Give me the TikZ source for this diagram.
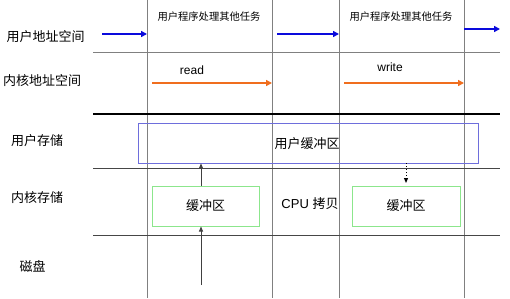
\documentclass[tikz,border=0pt]{standalone}
\usepackage{fontspec}
\setmainfont{Liberation Sans}
\newfontfamily\cjk{Noto Sans CJK SC}
\usetikzlibrary{arrows.meta}
\definecolor{gridgray}{RGB}{128,128,128}
\definecolor{darkline}{RGB}{70,70,70}
\definecolor{ublue}{RGB}{10,10,220}
\definecolor{korange}{RGB}{240,110,30}
\definecolor{boxblue}{RGB}{110,110,220}
\definecolor{boxgreen}{RGB}{140,230,140}
\tikzset{
  lbl/.style={font=\cjk\fontsize{13}{15}\selectfont, inner sep=0pt},
  task/.style={font=\cjk\fontsize{10.3}{12}\selectfont, inner sep=0pt},
  txt/.style={font=\fontsize{12}{14}\selectfont, inner sep=0pt},
  vline/.style={gridgray, line width=1pt},
  hline/.style={darkline, line width=0.8pt},
  uarrow/.style={ublue, line width=2pt, -{Triangle[length=6pt,width=6pt]}},
  karrow/.style={korange, line width=2pt, -{Triangle[length=6pt,width=6pt]}},
  uparrow/.style={black!75, line width=0.8pt, -{Triangle[length=5pt,width=4pt]}},
  dotarrow/.style={black, line width=1pt, dotted, -{Triangle[length=5pt,width=4pt]}},
  ubuf/.style={draw=boxblue, line width=0.8pt, inner sep=0pt},
  kbuf/.style={draw=boxgreen, line width=1pt, inner sep=0pt},
}
\begin{document}
\begin{tikzpicture}[x=1pt, y=-1pt]
\useasboundingbox[fill=white] (0,0) rectangle (510,298);
% grid
\foreach \x in {147,272,339,464} \draw[vline] (\x,0) -- (\x,298);
\draw[gridgray, line width=1pt] (93,52) -- (500,52);
\draw[black, line width=2.2pt] (93,114) -- (500,114);
\draw[hline] (93,168) -- (500,168);
\draw[hline] (93,235) -- (500,235);
% left labels
\node[lbl] (l1) at (45.5,37) {用户地址空间};
\node[lbl] (l2) at (42,81) {内核地址空间};
\node[lbl] (l3) at (37,141) {用户存储};
\node[lbl] (l4) at (37,198) {内核存储};
\node[lbl] (l5) at (32.5,266) {磁盘};
% task labels
\node[task] (t1) at (209,17) {用户程序处理其他任务};
\node[task] (t2) at (401,17) {用户程序处理其他任务};
% arrows in address spaces
\coordinate (u1s) at (102,34); \coordinate (u1e) at (147,34);
\coordinate (u2s) at (277,34); \coordinate (u2e) at (339,34);
\coordinate (u3s) at (464,29); \coordinate (u3e) at (500,29);
\draw[uarrow] (u1s) -- (u1e);
\draw[uarrow] (u2s) -- (u2e);
\draw[uarrow] (u3s) -- (u3e);
\coordinate (k1s) at (152,83); \coordinate (k1e) at (272,83);
\coordinate (k2s) at (344,83); \coordinate (k2e) at (464,83);
\draw[karrow] (k1s) -- (k1e);
\draw[karrow] (k2s) -- (k2e);
\node[txt] (read) at (192,70) {read};
\node[txt] (write) at (390,67) {write};
% buffers
\node[ubuf, minimum width=340pt, minimum height=40pt] (ub) at (308,143) {};
\node[font=\cjk\fontsize{13}{15}\selectfont, inner sep=0pt] (ubt) at (307,144) {用户缓冲区};
\node[kbuf, minimum width=107pt, minimum height=40pt, font=\cjk\fontsize{13}{15}\selectfont] (kb1) at (205.5,206) {缓冲区};
\node[kbuf, minimum width=108pt, minimum height=40pt, font=\cjk\fontsize{13}{15}\selectfont] (kb2) at (406,206) {缓冲区};
\node[inner sep=0pt] (cpu) at (310,204) {\fontsize{13}{15}\selectfont CPU {\cjk 拷贝}};
% vertical arrows
\coordinate (disk) at (201,285);
\draw[uparrow] (disk) -- (kb1.south -| disk);
\draw[uparrow] (kb1.north -| disk) -- (ub.south -| disk);
\coordinate (dend) at (406,183);
\draw[dotarrow] (ub.south -| dend) -- (dend);
\end{tikzpicture}
\end{document}
